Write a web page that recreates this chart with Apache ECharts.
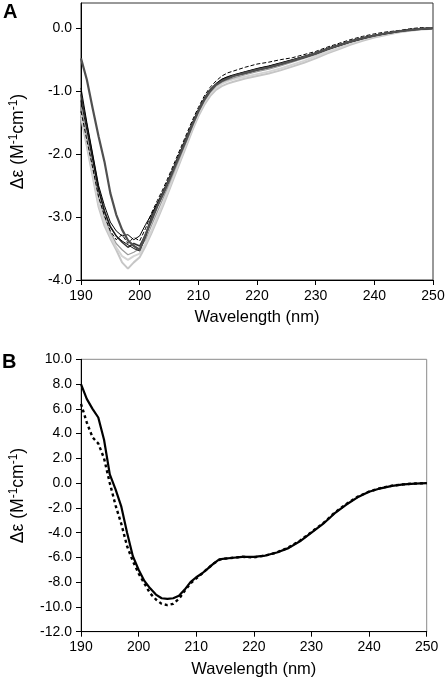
<!DOCTYPE html>
<html>
<head>
<meta charset="utf-8">
<script src="https://cdn.jsdelivr.net/npm/echarts@6/dist/echarts.min.js"></script>
<style>
html,body{margin:0;padding:0;background:#fff;}
#chart{width:448px;height:681px;}
</style>
</head>
<body>
<div id="chart"></div>
<script>
// Wavelength (nm) sampling used by every series
const wavelengths = [190,191,192,193,194,195,196,197,198,199,200,201,202,203,204,205,206,207,208,209,210,211,212,213,214,215,216,218,220,222,224,226,228,230,232,234,236,238,240,242,244,246,248,250];

// Panel A: several CD spectra
const aLight1 = [-1.42,-1.88,-2.36,-2.84,-3.14,-3.34,-3.52,-3.72,-3.82,-3.72,-3.64,-3.46,-3.26,-3.04,-2.82,-2.58,-2.34,-2.10,-1.86,-1.62,-1.40,-1.22,-1.08,-0.98,-0.92,-0.88,-0.85,-0.80,-0.76,-0.72,-0.67,-0.61,-0.55,-0.48,-0.40,-0.33,-0.26,-0.20,-0.15,-0.11,-0.07,-0.04,-0.02,-0.01];
const aLight2 = [-1.35,-1.82,-2.30,-2.78,-3.08,-3.30,-3.48,-3.62,-3.68,-3.62,-3.58,-3.42,-3.22,-3.00,-2.78,-2.54,-2.30,-2.06,-1.82,-1.58,-1.36,-1.18,-1.04,-0.95,-0.88,-0.84,-0.81,-0.77,-0.73,-0.69,-0.64,-0.58,-0.52,-0.45,-0.38,-0.31,-0.24,-0.18,-0.13,-0.09,-0.06,-0.03,-0.01,0.00];
const aGray = [-1.25,-1.72,-2.20,-2.68,-3.00,-3.24,-3.42,-3.52,-3.60,-3.56,-3.50,-3.36,-3.14,-2.92,-2.70,-2.48,-2.25,-2.02,-1.79,-1.56,-1.34,-1.16,-1.02,-0.92,-0.86,-0.82,-0.79,-0.74,-0.69,-0.65,-0.60,-0.54,-0.48,-0.42,-0.35,-0.28,-0.22,-0.17,-0.12,-0.09,-0.05,-0.03,-0.01,0.00];
const aMid = [-1.05,-1.55,-2.05,-2.55,-2.90,-3.15,-3.30,-3.40,-3.48,-3.42,-3.46,-3.28,-3.00,-2.80,-2.60,-2.40,-2.18,-1.96,-1.74,-1.51,-1.30,-1.12,-0.98,-0.89,-0.82,-0.78,-0.75,-0.70,-0.65,-0.61,-0.56,-0.51,-0.45,-0.40,-0.33,-0.27,-0.21,-0.16,-0.12,-0.08,-0.05,-0.03,-0.01,0.00];
const aBlack1 = [-0.95,-1.50,-2.00,-2.50,-2.82,-3.08,-3.22,-3.30,-3.28,-3.36,-3.30,-3.12,-2.96,-2.78,-2.60,-2.38,-2.16,-1.94,-1.72,-1.50,-1.30,-1.12,-0.98,-0.88,-0.81,-0.77,-0.74,-0.69,-0.64,-0.60,-0.55,-0.50,-0.45,-0.39,-0.32,-0.26,-0.20,-0.15,-0.11,-0.08,-0.05,-0.02,-0.01,0.00];
const aBlack2 = [-1.15,-1.62,-2.10,-2.58,-2.92,-3.16,-3.30,-3.38,-3.44,-3.50,-3.54,-3.32,-3.05,-2.84,-2.64,-2.43,-2.20,-1.97,-1.74,-1.52,-1.31,-1.13,-0.99,-0.90,-0.84,-0.79,-0.76,-0.72,-0.67,-0.63,-0.58,-0.52,-0.47,-0.41,-0.34,-0.28,-0.22,-0.17,-0.12,-0.09,-0.06,-0.03,-0.02,-0.01];
const aBlackDash = [-1.32,-1.78,-2.22,-2.68,-2.98,-3.22,-3.36,-3.28,-3.42,-3.32,-3.38,-3.18,-2.94,-2.74,-2.55,-2.34,-2.12,-1.90,-1.68,-1.46,-1.26,-1.08,-0.94,-0.84,-0.76,-0.71,-0.68,-0.62,-0.57,-0.54,-0.50,-0.47,-0.42,-0.37,-0.30,-0.24,-0.18,-0.13,-0.09,-0.06,-0.04,-0.01,0.01,0.00];
const aDark = [-0.48,-0.82,-1.28,-1.72,-2.12,-2.62,-2.96,-3.20,-3.37,-3.46,-3.52,-3.28,-3.06,-2.83,-2.63,-2.42,-2.20,-1.98,-1.76,-1.53,-1.32,-1.14,-1.00,-0.90,-0.84,-0.80,-0.76,-0.71,-0.66,-0.62,-0.57,-0.52,-0.46,-0.40,-0.33,-0.27,-0.21,-0.16,-0.12,-0.08,-0.05,-0.03,-0.01,0.00];

// Panel B: two CD spectra
const bSolid = [8.0,6.8,6.0,5.3,3.5,0.7,-0.5,-1.9,-4.0,-5.9,-7.0,-7.9,-8.5,-9.0,-9.3,-9.35,-9.3,-9.1,-8.6,-8.0,-7.6,-7.3,-6.9,-6.5,-6.15,-6.1,-6.05,-5.95,-5.95,-5.85,-5.6,-5.25,-4.7,-4.0,-3.3,-2.45,-1.75,-1.15,-0.7,-0.42,-0.22,-0.1,-0.04,0.0];
const bDash = [6.4,4.9,3.7,3.2,2.0,0.0,-1.8,-3.3,-5.1,-6.3,-7.3,-8.1,-8.9,-9.4,-9.75,-9.85,-9.75,-9.35,-8.7,-8.1,-7.7,-7.3,-6.9,-6.5,-6.2,-6.1,-6.05,-5.95,-6.0,-5.85,-5.6,-5.2,-4.65,-3.95,-3.25,-2.4,-1.7,-1.1,-0.68,-0.4,-0.2,-0.1,-0.03,0.0];

// Tick labels
const xTicks = [190,200,210,220,230,240,250];
const yTicksA = [-4,-3,-2,-1,0];
const yTicksB = [-12,-10,-8,-6,-4,-2,0,2,4,6,8,10];

const FONT = 'Liberation Sans, Arial, sans-serif';
const pair = arr => wavelengths.map((w, i) => [w, arr[i]]);

function xAxisFor(gi, labelMargin) {
  return {
    type: 'value', gridIndex: gi, min: 190, max: 250, interval: 10,
    axisLine: { show: true, onZero: false, lineStyle: { color: '#000', width: 1 } },
    axisTick: { show: true, length: 5, lineStyle: { color: '#000' }, customValues: xTicks },
    axisLabel: { fontSize: 14, color: '#000', fontFamily: FONT, margin: labelMargin, customValues: xTicks },
    splitLine: { show: false },
    name: 'Wavelength (nm)', nameLocation: 'middle', nameGap: 29,
    nameTextStyle: { fontSize: 16.5, color: '#000', fontFamily: FONT }
  };
}
function yAxisFor(gi, min, max, ticks) {
  return {
    type: 'value', gridIndex: gi, min: min, max: max,
    axisLine: { show: true, onZero: false, lineStyle: { color: '#000', width: 1 } },
    axisTick: { show: true, length: 5, lineStyle: { color: '#000' }, customValues: ticks },
    axisLabel: { fontSize: 14, color: '#000', fontFamily: FONT, margin: 9, customValues: ticks,
      formatter: v => Number(v).toFixed(1) },
    splitLine: { show: false },
    name: '{t|Δε (M}{s|-1}{t|cm}{s|-1}{t|)}', nameLocation: 'middle', nameGap: 53, nameRotate: 90,
    nameTextStyle: {
      color: '#000', fontFamily: FONT,
      rich: {
        t: { fontSize: 17.5, fontFamily: FONT, color: '#000', lineHeight: 20 },
        s: { fontSize: 12, fontFamily: FONT, color: '#000', verticalAlign: 'top', lineHeight: 20 }
      }
    }
  };
}
function line(name, gi, arr, color, width, type, z) {
  return {
    name: name, type: 'line', xAxisIndex: gi, yAxisIndex: gi, data: pair(arr),
    showSymbol: false, symbol: 'none', smooth: false, z: z,
    lineStyle: { color: color, width: width, type: type || 'solid' },
    animation: false
  };
}

const chart = echarts.init(document.getElementById('chart'), null, { renderer: 'canvas' });
chart.setOption({
  animation: false,
  backgroundColor: '#fff',
  grid: [
    { left: 77.5, right: 15, top: 3, bottom: 401, show: true, borderColor: '#333', borderWidth: 1, backgroundColor: 'transparent' },
    { left: 77.3, right: 21.3, top: 359.3, bottom: 49.3, show: true, borderColor: '#8a8a8a', borderWidth: 1, backgroundColor: 'transparent' }
  ],
  xAxis: [xAxisFor(0, 9), xAxisFor(1, 8)],
  yAxis: [yAxisFor(0, -4, 0.4, yTicksA), yAxisFor(1, -12, 10, yTicksB)],
  graphic: [
    { type: 'text', left: 3, top: 2, style: { text: 'A', font: 'bold 20px ' + FONT, fill: '#000' } },
    { type: 'text', left: 2, top: 352, style: { text: 'B', font: 'bold 20px ' + FONT, fill: '#000' } }
  ],
  series: [
    line('A light 1', 0, aLight1, '#c6c6c6', 2, 'solid', 2),
    line('A light 2', 0, aLight2, '#d4d4d4', 2, 'solid', 2),
    line('A gray', 0, aGray, '#9a9a9a', 1.2, 'solid', 3),
    line('A mid', 0, aMid, '#333333', 1.5, 'solid', 3),
    line('A black 1', 0, aBlack1, '#000000', 1, 'solid', 4),
    line('A black 2', 0, aBlack2, '#111111', 1, 'solid', 4),
    line('A black dashed', 0, aBlackDash, '#000000', 1, [4, 2], 4),
    line('A dark', 0, aDark, '#505050', 2.2, 'solid', 5),
    line('B solid', 1, bSolid, '#000000', 2.2, 'solid', 4),
    line('B dashed', 1, bDash, '#000000', 2.4, [3, 3], 4)
  ]
});
</script>
</body>
</html>
